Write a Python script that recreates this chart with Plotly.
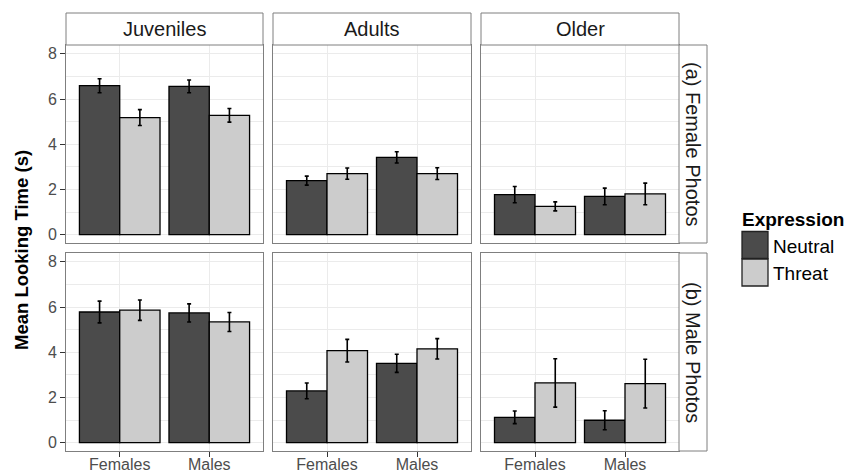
import plotly.graph_objects as go

# ---------------- data ----------------
age_groups = ["Juveniles", "Adults", "Older"]
photo_types = ["(a) Female Photos", "(b) Male Photos"]
sexes = ["Females", "Males"]
expressions = ["Neutral", "Threat"]
y_tick_vals = [0, 2, 4, 6, 8]

# per age group: [Females, Males]
neutral_means_female_photos = [[6.59, 6.56], [2.39, 3.42], [1.77, 1.69]]
threat_means_female_photos = [[5.18, 5.28], [2.70, 2.70], [1.25, 1.80]]
neutral_se_female_photos = [[0.31, 0.28], [0.20, 0.25], [0.36, 0.37]]
threat_se_female_photos = [[0.35, 0.30], [0.25, 0.26], [0.20, 0.48]]

neutral_means_male_photos = [[5.78, 5.74], [2.29, 3.51], [1.12, 0.99]]
threat_means_male_photos = [[5.86, 5.34], [4.07, 4.15], [2.64, 2.61]]
neutral_se_male_photos = [[0.48, 0.40], [0.35, 0.40], [0.28, 0.42]]
threat_se_male_photos = [[0.45, 0.42], [0.50, 0.45], [1.07, 1.08]]

# ---------------- style ----------------
W, H = 860, 473
FONT = "Liberation Sans"
NEUTRAL_COLOR = "#4b4b4b"
THREAT_COLOR = "#cccccc"
BORDER = "#7f7f7f"
GRID = "#ebebeb"
TEXT_DARK = "#1a1a1a"
TICK_TEXT = "#4d4d4d"

col_px = [(66, 263), (273, 471), (481, 679)]
row_px = [(45, 243), (253, 451)]
YRANGE = [-0.37, 8.39]


def px_x(p):
    return p / W


def px_y(p):
    return 1 - p / H


means = [
    [neutral_means_female_photos, threat_means_female_photos],
    [neutral_means_male_photos, threat_means_male_photos],
]
ses = [
    [neutral_se_female_photos, threat_se_female_photos],
    [neutral_se_male_photos, threat_se_male_photos],
]
colors = [NEUTRAL_COLOR, THREAT_COLOR]

fig = go.Figure()
layout = {}
for r in range(2):
    for c in range(3):
        idx = r * 3 + c + 1
        xa = "x" if idx == 1 else f"x{idx}"
        ya = "y" if idx == 1 else f"y{idx}"
        for e in range(2):
            fig.add_trace(go.Bar(
                x=sexes,
                y=means[r][e][c],
                name=expressions[e],
                offsetgroup=str(e),
                marker=dict(color=colors[e], line=dict(color="black", width=1.3)),
                error_y=dict(type="data", array=ses[r][e][c], color="black",
                             thickness=1.6, width=2),
                xaxis=xa, yaxis=ya, showlegend=False,
                hoverinfo="skip",
            ))
        xk = "xaxis" if idx == 1 else f"xaxis{idx}"
        yk = "yaxis" if idx == 1 else f"yaxis{idx}"
        layout[xk] = dict(
            domain=[px_x(col_px[c][0]), px_x(col_px[c][1])],
            anchor=ya, range=[-0.6, 1.6], type="category",
            categoryorder="array", categoryarray=sexes,
            showgrid=True, gridcolor=GRID, gridwidth=1,
            showline=True, linecolor=BORDER, linewidth=1, mirror=True,
            ticks="outside" if r == 1 else "", ticklen=5, tickcolor="#333333",
            showticklabels=(r == 1), ticklabelstandoff=-6,
            tickfont=dict(family=FONT, size=16, color=TICK_TEXT),
            zeroline=False, fixedrange=True, automargin=False,
        )
        layout[yk] = dict(
            domain=[px_y(row_px[r][1]), px_y(row_px[r][0])],
            anchor=xa, range=YRANGE,
            tickvals=y_tick_vals,
            showgrid=True, gridcolor=GRID, gridwidth=1,
            minor=dict(tick0=1, dtick=2, showgrid=True, gridcolor=GRID, gridwidth=0.6),
            showline=True, linecolor=BORDER, linewidth=1, mirror=True,
            ticks="outside" if c == 0 else "", ticklen=5, tickcolor="#333333",
            showticklabels=(c == 0),
            tickfont=dict(family=FONT, size=16, color=TICK_TEXT),
            zeroline=False, fixedrange=True, automargin=False,
        )

shapes = []
annotations = []
# top strips
for c in range(3):
    x0, x1 = col_px[c]
    shapes.append(dict(type="rect", xref="paper", yref="paper",
                       x0=px_x(x0), x1=px_x(x1), y0=px_y(45), y1=px_y(13),
                       fillcolor="white", line=dict(color=BORDER, width=1)))
    annotations.append(dict(text=age_groups[c], xref="paper", yref="paper",
                            x=px_x((x0 + x1) / 2), y=px_y(29), showarrow=False,
                            xanchor="center", yanchor="middle",
                            font=dict(family=FONT, size=20, color=TEXT_DARK)))
# right strips
for r in range(2):
    y0, y1 = row_px[r]
    shapes.append(dict(type="rect", xref="paper", yref="paper",
                       x0=px_x(679), x1=px_x(707), y0=px_y(y1), y1=px_y(y0),
                       fillcolor="white", line=dict(color=BORDER, width=1)))
    annotations.append(dict(text=photo_types[r], xref="paper", yref="paper",
                            x=px_x(693), y=px_y((y0 + y1) / 2), showarrow=False,
                            textangle=90, xanchor="center", yanchor="middle",
                            font=dict(family=FONT, size=20, color=TEXT_DARK)))

# y axis title
annotations.append(dict(text="<b>Mean Looking Time (s)</b>", xref="paper", yref="paper",
                        x=px_x(21), y=px_y(250), showarrow=False, textangle=-90,
                        xanchor="center", yanchor="middle",
                        font=dict(family=FONT, size=18.5, color="black")))

# legend (manual)
annotations.append(dict(text="<b>Expression</b>", xref="paper", yref="paper",
                        x=px_x(740), y=px_y(219), showarrow=False,
                        xanchor="left", yanchor="middle",
                        font=dict(family=FONT, size=19, color="black")))
key_tops = [231, 258.5]
for e in range(2):
    t = key_tops[e]
    shapes.append(dict(type="rect", xref="paper", yref="paper",
                       x0=px_x(742), x1=px_x(768), y0=px_y(t + 27.5), y1=px_y(t + 0.5),
                       fillcolor=colors[e], line=dict(color="#222222", width=1.3)))
    annotations.append(dict(text=expressions[e], xref="paper", yref="paper",
                            x=px_x(771), y=px_y(t + 15), showarrow=False,
                            xanchor="left", yanchor="middle",
                            font=dict(family=FONT, size=19, color="black")))

fig.update_layout(
    width=W, height=H,
    margin=dict(l=0, r=0, t=0, b=0, autoexpand=False),
    paper_bgcolor="white", plot_bgcolor="white",
    barmode="group", bargap=0.1, bargroupgap=0,
    shapes=shapes, annotations=annotations,
    showlegend=False,
    font=dict(family=FONT),
    **layout,
)

fig.write_html(
    "out.html",
    config={"displayModeBar": False},
    post_script="document.body.style.margin='0';document.body.style.overflow='hidden';",
)
